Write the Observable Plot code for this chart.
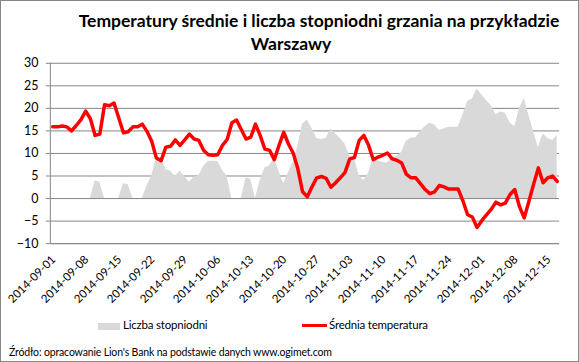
<!DOCTYPE html>
<html>
<head>
<meta charset="utf-8">
<script src="https://cdn.jsdelivr.net/npm/d3@7"></script>
<script src="https://cdn.jsdelivr.net/npm/@observablehq/plot@0.6"></script>
<style>
  html, body { margin: 0; padding: 0; background: #fff; }
  #chart { position: relative; width: 579px; height: 362px; box-sizing: border-box; border: 1px solid #878787; overflow: hidden; font-family: Lato, "Open Sans", sans-serif; color: #000; }
  #chart svg { position: absolute; left: -1px; top: -1px; }
  .title { position: absolute; font-weight: bold; font-size: 17.5px; white-space: nowrap; transform: translateX(-50%); }
  .leg { position: absolute; font-size: 11.5px; letter-spacing: -0.2px; white-space: nowrap; }
  .src { position: absolute; left: 8px; top: 345px; font-size: 10.5px; letter-spacing: -0.15px; white-space: nowrap; }
</style>
</head>
<body>
<div id="chart">
  <div class="title" style="left:318px; top:9px;">Temperatury średnie i liczba stopniodni grzania na przykładzie</div>
  <div class="title" style="left:290px; top:32px;">Warszawy</div>
  <div class="leg" style="left:97px; top:322px; width:22px; height:7px; background:#d9d9d9;"></div>
  <div class="leg" style="left:122px; top:317px;">Liczba stopniodni</div>
  <div class="leg" style="left:301px; top:323px; width:25px; height:3px; background:#ff0000;"></div>
  <div class="leg" style="left:328px; top:317px;">Średnia temperatura</div>
  <div class="src">Źródło: opracowanie Lion's Bank na podstawie danych www.ogimet.com</div>
</div>
<script>
// Daily mean temperature (°C), 2014-09-01 .. 2014-12-17
const temperature = [
  15.9, 15.9, 16.1, 15.9, 15.0, 16.2, 17.5, 19.4, 17.7, 14.0,
  14.3, 20.8, 20.6, 21.2, 17.9, 14.6, 14.8, 15.9, 15.9, 16.5,
  14.9, 12.7, 9.0, 8.4, 11.4, 11.6, 13.0, 11.8, 13.0, 14.3,
  13.2, 12.9, 10.7, 9.7, 9.6, 9.7, 11.8, 13.1, 16.8, 17.4,
  15.3, 13.2, 13.6, 16.5, 14.0, 11.0, 10.7, 8.6, 11.8, 14.7,
  12.1, 10.1, 6.6, 1.5, 0.4, 2.6, 4.6, 4.9, 4.5, 2.5,
  3.5, 4.6, 5.8, 8.8, 9.1, 12.9, 14.0, 11.8, 8.6, 9.2,
  9.6, 10.1, 8.8, 8.5, 7.9, 5.4, 4.6, 4.6, 3.3, 2.0,
  1.1, 1.5, 2.9, 2.6, 2.1, 2.1, 2.1, -0.5, -3.6, -4.1,
  -6.4, -4.9, -3.6, -2.4, -0.8, -1.4, -1.0, 0.9, 2.0, -1.8,
  -4.3, -0.6, 3.2, 6.8, 3.5, 4.6, 5.0, 3.8
];
// Heating degree days per day
const degreeDays = [
  0, 0, 0, 0, 0, 0, 0, 0, 0, 3.9,
  3.6, 0, 0, 0, 0, 3.3, 3.1, 0, 0, 0,
  2.8, 5.0, 9.1, 9.0, 6.4, 6.1, 4.9, 6.1, 4.9, 3.6,
  4.8, 5.0, 7.1, 8.2, 8.3, 8.2, 6.3, 4.9, 0, 0,
  0, 4.6, 4.3, 0, 4.0, 6.8, 7.2, 9.0, 6.0, 3.3,
  5.7, 8.0, 11.6, 16.5, 17.4, 15.5, 13.3, 13.1, 13.4, 15.4,
  14.4, 13.3, 12.1, 9.4, 8.9, 5.1, 4.0, 5.6, 9.0, 8.4,
  8.0, 7.9, 9.1, 9.3, 10.2, 12.7, 13.4, 13.5, 14.8, 16.0,
  16.7, 16.3, 15.1, 15.4, 15.8, 15.8, 15.8, 18.5, 21.5, 22.1,
  24.3, 23.0, 21.7, 20.6, 18.6, 19.2, 18.9, 16.8, 15.9, 19.9,
  22.2, 18.5, 14.8, 11.3, 14.3, 13.4, 12.9, 14.0
];
const xTickLabels = [
  "2014-09-01", "2014-09-08", "2014-09-15", "2014-09-22", "2014-09-29", "2014-10-06",
  "2014-10-13", "2014-10-20", "2014-10-27", "2014-11-03", "2014-11-10", "2014-11-17",
  "2014-11-24", "2014-12-01", "2014-12-08", "2014-12-15"
];
const yTicks = [-10, -5, 0, 5, 10, 15, 20, 25, 30];

const startDate = new Date(Date.UTC(2014, 8, 1));
const dates = temperature.map((_, i) => d3.utcDay.offset(startDate, i));
const data = dates.map((d, i) => ({date: d, temp: temperature[i], dd: degreeDays[i]}));
const xDomain = [d3.utcHour.offset(dates[0], -12), d3.utcHour.offset(dates[dates.length - 1], 12)];
const xTicks = xTickLabels.map(s => new Date(s + "T00:00:00Z"));
const grid = "#868686";

const plot = Plot.plot({
  width: 579,
  height: 320,
  marginLeft: 50,
  marginRight: 18,
  marginTop: 63,
  marginBottom: 76,
  style: {fontFamily: "Lato, 'Open Sans', sans-serif", background: "transparent", color: "#000", overflow: "visible"},
  x: {type: "utc", domain: xDomain},
  y: {domain: [-10, 30]},
  marks: [
    Plot.gridY({ticks: yTicks, stroke: grid, strokeOpacity: 1, strokeWidth: 1}),
    Plot.areaY(data, {x: "date", y: "dd", fill: "#d9d9d9"}),
    Plot.ruleX([xDomain[0]], {y1: -10, y2: 30, stroke: grid, strokeWidth: 1}),
    Plot.ruleY([-10], {stroke: grid, strokeWidth: 1}),
    Plot.axisY({ticks: yTicks, tickSize: 4, tickPadding: 8, fontSize: 12.5, stroke: grid}),
    Plot.lineY(data, {x: "date", y: "temp", stroke: "#ff0000", strokeWidth: 3.5, strokeLinejoin: "round", strokeLinecap: "round"}),
    Plot.axisX({ticks: xTicks, tickFormat: d3.utcFormat("%Y-%m-%d"), tickRotate: -45, tickSize: 0, tickPadding: 14, fontSize: 11.5, dx: 1})
  ]
});
document.getElementById("chart").appendChild(plot);
</script>
</body>
</html>
